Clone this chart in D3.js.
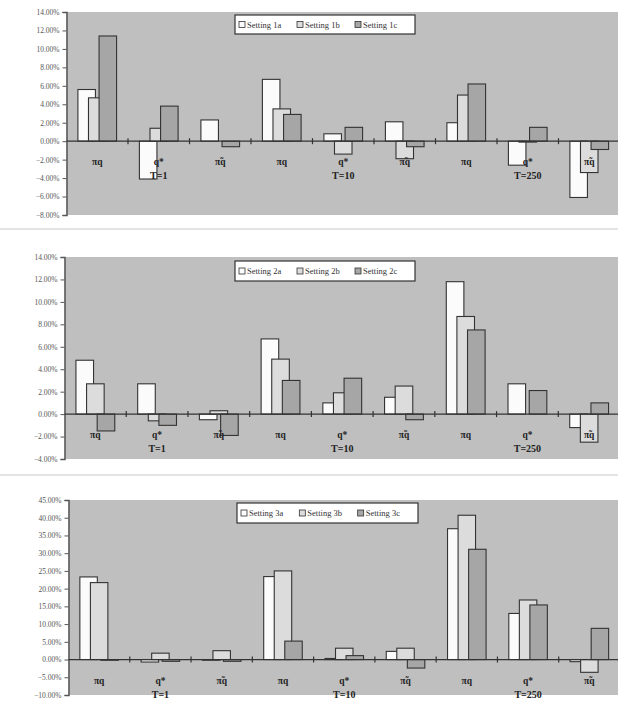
<!DOCTYPE html>
<html>
<head>
<meta charset="utf-8">
<script src="https://cdn.jsdelivr.net/npm/d3@7"></script>
<style>
  html, body { margin: 0; padding: 0; background: #fff; }
  svg { display: block; }
  .tick text { font-family: "Liberation Serif", serif; }
</style>
</head>
<body>
<svg id="chart" width="618" height="704"></svg>
<script>
// categories along x (three per T group)
const categories = ["πq", "q*", "π̃q", "πq", "q*", "π̃q", "πq", "q*", "π̃q"];
const groupLabels = ["T=1", "T=10", "T=250"];

// values in percent
const setting1a = [5.6, -4.1, 2.3, 6.7, 0.8, 2.1, 2.0, -2.6, -6.1];
const setting1b = [4.7, 1.4, 0.0, 3.5, -1.4, -1.9, 5.0, -0.1, -3.4];
const setting1c = [11.4, 3.8, -0.6, 2.9, 1.5, -0.6, 6.2, 1.5, -0.9];

const setting2a = [4.8, 2.7, -0.5, 6.7, 1.0, 1.5, 11.8, 2.7, -1.2];
const setting2b = [2.7, -0.6, 0.3, 4.9, 1.9, 2.5, 8.7, 0.0, -2.5];
const setting2c = [-1.5, -1.0, -1.9, 3.0, 3.2, -0.5, 7.5, 2.1, 1.0];

const setting3a = [23.3, -0.7, -0.2, 23.4, 0.3, 2.3, 36.9, 13.0, -0.6];
const setting3b = [21.7, 1.8, 2.5, 25.0, 3.2, 3.2, 40.7, 16.8, -3.6];
const setting3c = [-0.2, -0.5, -0.5, 5.2, 1.1, -2.4, 31.1, 15.4, 8.8];

const ticks1 = [14, 12, 10, 8, 6, 4, 2, 0, -2, -4, -6, -8];
const ticks2 = [14, 12, 10, 8, 6, 4, 2, 0, -2, -4];
const ticks3 = [45, 40, 35, 30, 25, 20, 15, 10, 5, 0, -5, -10];

const legend1 = ["Setting 1a", "Setting 1b", "Setting 1c"];
const legend2 = ["Setting 2a", "Setting 2b", "Setting 2c"];
const legend3 = ["Setting 3a", "Setting 3b", "Setting 3c"];

const fills = ["#fbfbfb", "#dcdcdc", "#a6a6a6"];
const plotBg = "#bfbfbf";
const ink = "#333";

const svg = d3.select("#chart");

// faint frame lines between the three charts
[229, 475].forEach(function(y) {
  svg.append("line").attr("x1", 0).attr("x2", 618).attr("y1", y).attr("y2", y)
    .attr("stroke", "#e4e4e4").attr("stroke-width", 2);
});

const panels = [
  { series: [setting1a, setting1b, setting1c], ticks: ticks1, legend: legend1,
    left: 66.5, top: 12, bottom: 215, legendBox: [235, 15, 180, 19] },
  { series: [setting2a, setting2b, setting2c], ticks: ticks2, legend: legend2,
    left: 64.5, top: 257, bottom: 459, legendBox: [235, 261, 180, 20] },
  { series: [setting3a, setting3b, setting3c], ticks: ticks3, legend: legend3,
    left: 68.5, top: 500, bottom: 695, legendBox: [237, 503, 181, 20] }
];

panels.forEach(function(p) {
  const right = 620;
  const g = svg.append("g");

  const y = d3.scaleLinear()
    .domain([d3.min(p.ticks), d3.max(p.ticks)])
    .range([p.bottom, p.top]);
  const x = d3.scaleBand()
    .domain(d3.range(categories.length))
    .range([p.left, right])
    .padding(0);

  g.append("rect")
    .attr("x", p.left).attr("y", p.top)
    .attr("width", right - p.left).attr("height", p.bottom - p.top)
    .attr("fill", plotBg);

  // bars: later series sit on top of earlier ones (overlapping)
  const barW = x.bandwidth() * 0.285;
  const step = x.bandwidth() * 0.172;
  p.series.forEach(function(vals, si) {
    g.selectAll(null)
      .data(vals)
      .enter().append("rect")
      .attr("x", (d, i) => x(i) + x.bandwidth() / 2 - barW / 2 + (si - 1) * step)
      .attr("y", d => y(Math.max(0, d)))
      .attr("width", barW)
      .attr("height", d => Math.abs(y(d) - y(0)))
      .attr("fill", fills[si])
      .attr("stroke", ink)
      .attr("stroke-width", 1.1);
  });

  // value axis
  const yAxis = d3.axisLeft(y)
    .tickValues(p.ticks)
    .tickSize(4)
    .tickPadding(3)
    .tickFormat(d => d3.format(".2f")(d) + "%");
  const ya = g.append("g")
    .attr("transform", "translate(" + p.left + ",0)")
    .call(yAxis);
  ya.select(".domain").attr("stroke", "#555").attr("stroke-width", 1.5);
  ya.selectAll(".tick line").attr("stroke", "#555");
  ya.selectAll(".tick text").attr("fill", "#555").style("font-size", "7.5px");

  // zero line with category ticks
  g.append("line")
    .attr("x1", p.left).attr("x2", right)
    .attr("y1", y(0)).attr("y2", y(0))
    .attr("stroke", ink).attr("stroke-width", 1.2);
  g.selectAll(null)
    .data(d3.range(1, categories.length))
    .enter().append("line")
    .attr("x1", i => x(i)).attr("x2", i => x(i))
    .attr("y1", y(0) - 3).attr("y2", y(0) + 3)
    .attr("stroke", ink).attr("stroke-width", 1.2);

  // category labels
  g.selectAll(null)
    .data(categories)
    .enter().append("text")
    .attr("x", (d, i) => x(i) + x.bandwidth() / 2)
    .attr("y", y(0) + 24)
    .attr("text-anchor", "middle")
    .style("font-family", "Liberation Serif, serif")
    .style("font-size", "9.5px")
    .style("font-weight", "bold")
    .attr("fill", "#222")
    .text(d => d);
  g.selectAll(null)
    .data(groupLabels)
    .enter().append("text")
    .attr("x", (d, i) => x(i * 3 + 1) + x.bandwidth() / 2)
    .attr("y", y(0) + 38)
    .attr("text-anchor", "middle")
    .style("font-family", "Liberation Serif, serif")
    .style("font-size", "10px")
    .style("font-weight", "bold")
    .attr("fill", "#222")
    .text(d => d);

  // legend
  const lb = p.legendBox;
  const lg = g.append("g").attr("transform", "translate(" + lb[0] + "," + lb[1] + ")");
  lg.append("rect")
    .attr("width", lb[2]).attr("height", lb[3])
    .attr("fill", "#fff").attr("stroke", ink).attr("stroke-width", 1.2);
  const item = d3.scaleBand().domain(d3.range(3)).range([4, lb[2] - 2]);
  const items = lg.selectAll(null)
    .data(p.legend)
    .enter().append("g")
    .attr("transform", (d, i) => "translate(" + item(i) + "," + (lb[3] / 2) + ")");
  items.append("rect")
    .attr("x", 0).attr("y", -3)
    .attr("width", 6).attr("height", 6)
    .attr("fill", (d, i) => fills[i])
    .attr("stroke", ink).attr("stroke-width", 0.8);
  items.append("text")
    .attr("x", 8).attr("y", 3)
    .style("font-family", "Liberation Serif, serif")
    .style("font-size", "8.5px")
    .attr("fill", "#333")
    .text(d => d);
});
</script>
</body>
</html>
